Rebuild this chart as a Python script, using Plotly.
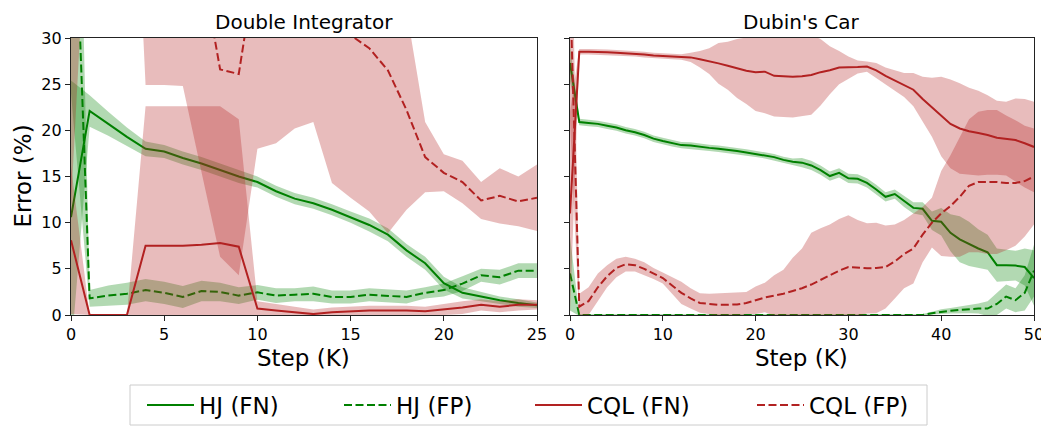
import plotly.graph_objects as go

# ---------------- data: Double Integrator (x = 0..25 K steps) ----------------
step_di = [0, 1, 2, 3, 4, 5, 6, 7, 8, 9, 10, 11, 12, 13, 14, 15, 16, 17, 18, 19, 20, 21, 22, 23, 24, 25]
hj_fn_di = [10.6, 22.1, 20.7, 19.3, 18.0, 17.7, 17.0, 16.4, 15.7, 15.0, 14.4, 13.4, 12.6, 12.1, 11.4, 10.6,
            9.75, 8.7, 7.0, 5.6, 3.45, 2.4, 2.0, 1.6, 1.3, 1.05]
hj_fn_di_sd = [14.8, 1.7, 1.3, 1.0, 0.8, 0.7, 0.7, 0.7, 0.7, 0.7, 0.6, 0.6, 0.6, 0.6, 0.6, 0.6,
               0.7, 0.7, 0.7, 0.7, 0.7, 0.6, 0.5, 0.4, 0.4, 0.3]
hj_fp_di = [57, 1.8, 2.1, 2.3, 2.7, 2.4, 1.95, 2.6, 2.5, 2.1, 2.45, 2.1, 2.2, 2.3, 1.95, 1.95,
            2.2, 2.05, 1.95, 2.4, 2.7, 3.4, 4.3, 4.1, 4.8, 4.8]
hj_fp_di_sd = [33, 0.9, 1.1, 1.2, 1.2, 1.2, 1.2, 1.1, 1.0, 0.9, 0.8, 0.8, 0.7, 0.8, 0.7, 0.7,
               0.7, 0.7, 0.7, 0.6, 0.7, 0.8, 0.7, 0.8, 0.8, 0.8]
cql_fn_di = [8.1, 0, 0, 0, 7.5, 7.5, 7.5, 7.6, 7.8, 7.4, 0.7, 0.5, 0.3, 0.1, 0.3, 0.4,
             0.5, 0.5, 0.5, 0.4, 0.6, 0.8, 1.1, 0.9, 1.1, 1.1]
cql_fn_di_sd = [8.0, 0, 0, 0, 15.1, 15.1, 15.1, 15.0, 14.8, 13.8, 0.8, 0.7, 0.6, 0.5, 0.5, 0.5,
                0.5, 0.5, 0.5, 0.5, 0.6, 0.7, 0.6, 0.6, 0.6, 0.5]
cql_fp_di = [40, 70, 80, 80, 45, 45, 45, 38, 26.6, 26.1, 39, 40, 38, 36, 33, 30.3,
             28.9, 26.5, 22.2, 17.1, 15.4, 14.4, 12.4, 12.9, 12.3, 12.7]
cql_fp_di_sd = [28, 20, 15, 12, 20.1, 20.1, 20.2, 22.5, 20.3, 21.8, 21.0, 21.4, 17.8, 15.1, 18.7, 17.6,
                17.7, 17.65, 10.8, 3.8, 2.0, 2.3, 2.0, 3.0, 2.7, 3.6]

# ---------------- data: Dubin's Car (x = 0..50 K steps) ----------------
step_dc = [0, 1, 2, 3, 4, 5, 6, 7, 8, 9, 10, 11, 12, 13, 14, 15, 16, 17, 18, 19, 20, 21, 22, 23, 24, 25,
           26, 27, 28, 29, 30, 31, 32, 33, 34, 35, 36, 37, 38, 39, 40, 41, 42, 43, 44, 45, 46, 47, 48, 49, 50]
hj_fn_dc = [27.3, 20.9, 20.8, 20.7, 20.5, 20.3, 20.0, 19.8, 19.5, 19.1,
            18.85, 18.6, 18.4, 18.35, 18.2, 18.1, 18.0, 17.9, 17.75, 17.6,
            17.45, 17.3, 17.1, 16.8, 16.6, 16.5, 16.2, 15.7, 15.05, 15.4,
            14.8, 14.75, 14.3, 13.6, 12.8, 13.1, 12.3, 11.6, 11.5, 10.2,
            10.1, 8.9, 8.2, 7.7, 7.2, 6.8, 5.4, 5.4, 5.35, 5.2, 4.0]
hj_fn_dc_sd = [2.0, 0.35, 0.35, 0.35, 0.35, 0.35, 0.35, 0.35, 0.35, 0.35,
               0.35, 0.35, 0.35, 0.35, 0.35, 0.35, 0.35, 0.35, 0.35, 0.35,
               0.35, 0.35, 0.35, 0.35, 0.35, 0.5, 0.5, 0.5, 0.5, 0.5,
               0.5, 0.5, 0.5, 0.5, 0.5, 0.5, 0.6, 0.6, 0.7, 1.0,
               1.5, 2.0, 2.5, 2.4, 2.1, 1.9, 1.8, 1.7, 1.6, 2.0, 3.0]
hj_fp_dc = [4.5, 0, 0, 0, 0, 0, 0, 0, 0, 0,
            0, 0, 0, 0, 0, 0, 0, 0, 0, 0,
            0, 0, 0, 0, 0, 0, 0, 0, 0, 0,
            0, 0, 0, 0, 0, 0, 0, 0, 0, 0.2,
            0.36, 0.45, 0.55, 0.65, 0.7, 0.7, 1.2, 2.0, 1.6, 2.4, 4.8]
hj_fp_dc_sd = [4.0, 0.1, 0.1, 0.1, 0.1, 0.1, 0.1, 0.1, 0.1, 0.1,
               0.1, 0.1, 0.1, 0.1, 0.1, 0.1, 0.1, 0.1, 0.1, 0.1,
               0.1, 0.1, 0.1, 0.1, 0.1, 0.1, 0.1, 0.1, 0.1, 0.1,
               0.1, 0.1, 0.1, 0.1, 0.1, 0.1, 0.1, 0.1, 0.1, 0.15,
               0.25, 0.3, 0.35, 0.45, 0.55, 0.8, 1.2, 1.3, 1.3, 1.9, 2.8]
cql_fn_dc = [11, 28.5, 28.5, 28.5, 28.45, 28.4, 28.35, 28.3, 28.2, 28.1,
             28.05, 28.0, 27.95, 27.9, 27.7, 27.5, 27.25, 27.0, 26.7, 26.45,
             26.3, 26.35, 25.9, 25.85, 25.8, 25.85, 26.0, 26.3, 26.5, 26.8,
             26.8, 26.85, 26.9, 26.5, 25.9, 25.4, 24.9, 24.4, 23.4, 22.5,
             21.5, 20.7, 20.2, 19.9, 19.7, 19.5, 19.2, 19.1, 18.95, 18.6, 18.2]
cql_fn_dc_sd = [11, 0.3, 0.3, 0.3, 0.3, 0.3, 0.3, 0.3, 0.3, 0.3,
                0.3, 0.3, 0.3, 0.5, 0.9, 1.4, 2.2, 2.6, 3.2, 3.6,
                4.2, 4.5, 4.4, 4.4, 4.4, 4.3, 4.3, 3.6, 2.6, 1.8,
                1.2, 0.7, 0.55, 0.8, 0.9, 1.1, 1.3, 1.8, 2.4, 3.2,
                4.3, 4.8, 4.9, 4.7, 4.6, 4.3, 4.0, 4.0, 4.5, 4.8, 4.9]
cql_fp_dc = [36, 0.9, 1.5, 3.0, 4.2, 5.1, 5.5, 5.4, 5.0, 4.5,
             4.0, 3.2, 2.4, 1.8, 1.3, 1.2, 1.1, 1.1, 1.15, 1.3,
             1.6, 1.9, 2.1, 2.3, 2.6, 2.9, 3.3, 3.8, 4.3, 4.8,
             5.2, 5.1, 5.05, 5.1, 5.2, 5.8, 6.6, 7.2, 8.7, 10.0,
             11.0, 11.8, 12.8, 14.0, 14.4, 14.4, 14.4, 14.3, 14.3, 14.5, 15.0]
cql_fp_dc_sd = [15, 1.4, 1.5, 1.5, 1.2, 1.0, 0.8, 0.7, 0.7, 0.6,
                0.6, 0.9, 1.2, 1.1, 1.05, 1.1, 1.25, 1.25, 1.3, 1.2,
                1.5, 1.6, 2.2, 2.6, 3.6, 4.3, 5.6, 5.6, 5.5, 5.6,
                5.6, 5.2, 4.9, 4.9, 4.5, 4.0, 3.7, 3.8, 3.0, 2.7,
                4.6, 5.5, 6.5, 7.2, 7.6, 7.8, 7.8, 7.3, 6.8, 6.0, 5.2]

series_names = ["HJ (FN)", "HJ (FP)", "CQL (FN)", "CQL (FP)"]
subplot_titles = ["Double Integrator", "Dubin's Car"]
x_ticks_di = [0, 5, 10, 15, 20, 25]
x_ticks_dc = [0, 10, 20, 30, 40, 50]
y_ticks = [0, 5, 10, 15, 20, 25, 30]

# ---------------- styling ----------------
GREEN = "#008000"
RED = "#b22222"
GREEN_BAND = "rgba(0,128,0,0.3)"
RED_BAND = "rgba(178,34,34,0.3)"
FONT = "DejaVu Sans"
DASH = "8px,3.5px"

# page has an 8px body margin: figure occupies window pixels 8..1049, 8..426
OFF = 8
W, H = 1049 - OFF, 426 - OFF
def px_x(p):
    return (p - OFF) / W
def px_y(p):
    return (H - (p - OFF)) / H

legend_ids = ["legend", "legend2", "legend3", "legend4"]
legend_left_px = [146, 343, 534, 756]

fig = go.Figure()

def add_series(x, mean, sd, color, band, dash, name, xa, ya, show, leg):
    upper = [m + s for m, s in zip(mean, sd)]
    lower = [m - s for m, s in zip(mean, sd)]
    fig.add_trace(go.Scatter(
        x=x, y=mean, mode="lines", name=name, legendgroup=name, showlegend=show, legend=leg,
        line=dict(color=color, width=2, dash=dash), xaxis=xa, yaxis=ya, hoverinfo="skip"))
    fig.add_trace(go.Scatter(
        x=list(x) + list(x)[::-1], y=upper + lower[::-1], mode="lines", fill="toself",
        fillcolor=band, line=dict(width=0, color=band), showlegend=False, legend=leg,
        legendgroup=name, xaxis=xa, yaxis=ya, hoverinfo="skip"))

panels = [
    (step_di, [(hj_fn_di, hj_fn_di_sd), (hj_fp_di, hj_fp_di_sd), (cql_fn_di, cql_fn_di_sd), (cql_fp_di, cql_fp_di_sd)], "x", "y", True),
    (step_dc, [(hj_fn_dc, hj_fn_dc_sd), (hj_fp_dc, hj_fp_dc_sd), (cql_fn_dc, cql_fn_dc_sd), (cql_fp_dc, cql_fp_dc_sd)], "x2", "y2", False),
]
styles = [(GREEN, GREEN_BAND, "solid"), (GREEN, GREEN_BAND, DASH), (RED, RED_BAND, "solid"), (RED, RED_BAND, DASH)]

for x, data, xa, ya, show in panels:
    for (mean, sd), (c, b, d), nm, leg in zip(data, styles, series_names, legend_ids):
        add_series(x, mean, sd, c, b, d, nm, xa, ya, show, leg)

axis_common = dict(
    showgrid=False, zeroline=False, showline=True, mirror=True,
    linecolor="#222222", linewidth=1.2, ticks="outside", ticklen=5, tickwidth=1.2,
    tickcolor="#222222", tickfont=dict(family=FONT, size=16, color="black"),
)

dom_x1 = [px_x(71), px_x(537)]
dom_x2 = [px_x(570), px_x(1034)]
dom_y = [px_y(315), px_y(38)]

layout_legends = {}
for leg, lx in zip(legend_ids, legend_left_px):
    layout_legends[leg] = dict(
        orientation="h", x=px_x(lx - 4), xanchor="left", y=px_y(405), yanchor="middle",
        xref="container", yref="container",
        font=dict(family=FONT, size=23, color="black"),
        borderwidth=0, bgcolor="rgba(0,0,0,0)", itemwidth=47,
    )

fig.update_layout(
    width=W, height=H,
    margin=dict(l=0, r=0, t=0, b=0, autoexpand=False),
    paper_bgcolor="white", plot_bgcolor="white",
    font=dict(family=FONT, color="black"),
    xaxis=dict(domain=dom_x1, range=[0, 25], tickvals=x_ticks_di, anchor="y", **axis_common),
    xaxis2=dict(domain=dom_x2, range=[0, 50], tickvals=x_ticks_dc, anchor="y2", **axis_common),
    yaxis=dict(domain=dom_y, range=[0, 30], tickvals=y_ticks, anchor="x", **axis_common),
    yaxis2=dict(domain=dom_y, range=[0, 30], tickvals=y_ticks, anchor="x2", showticklabels=False, **axis_common),
    showlegend=True,
    **layout_legends,
)

# legend frame
fig.add_shape(type="rect", xref="paper", yref="paper",
              x0=px_x(130), x1=px_x(927), y0=px_y(425), y1=px_y(385),
              line=dict(color="#cccccc", width=1), fillcolor="rgba(0,0,0,0)", layer="below")

annotations = [
    dict(text=subplot_titles[0], x=(dom_x1[0] + dom_x1[1]) / 2, y=px_y(22), xref="paper", yref="paper",
         showarrow=False, font=dict(family=FONT, size=20), xanchor="center", yanchor="middle"),
    dict(text=subplot_titles[1], x=(dom_x2[0] + dom_x2[1]) / 2, y=px_y(22), xref="paper", yref="paper",
         showarrow=False, font=dict(family=FONT, size=20), xanchor="center", yanchor="middle"),
    dict(text="Step (K)", x=(dom_x1[0] + dom_x1[1]) / 2, y=px_y(358), xref="paper", yref="paper",
         showarrow=False, font=dict(family=FONT, size=23), xanchor="center", yanchor="middle"),
    dict(text="Step (K)", x=(dom_x2[0] + dom_x2[1]) / 2, y=px_y(358), xref="paper", yref="paper",
         showarrow=False, font=dict(family=FONT, size=23), xanchor="center", yanchor="middle"),
    dict(text="Error (%)", x=px_x(22), y=(dom_y[0] + dom_y[1]) / 2, xref="paper", yref="paper",
         showarrow=False, font=dict(family=FONT, size=23), textangle=-90, xanchor="center", yanchor="middle"),
]
fig.update_layout(annotations=annotations)

fig.write_html("out.html")
